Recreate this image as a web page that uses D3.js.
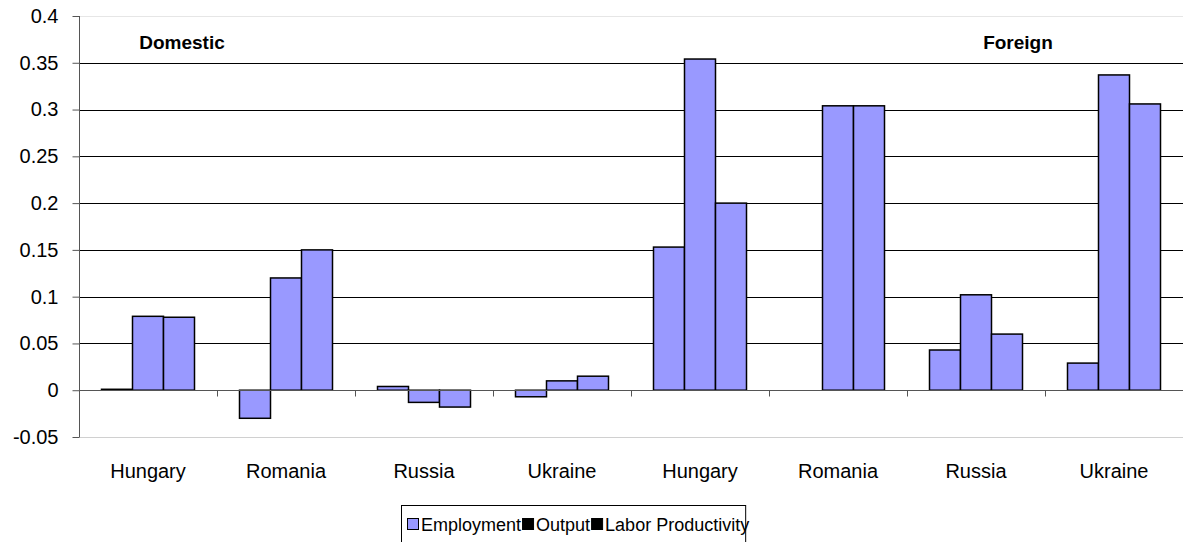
<!DOCTYPE html>
<html>
<head>
<meta charset="utf-8">
<script src="https://cdnjs.cloudflare.com/ajax/libs/d3/7.8.5/d3.min.js"></script>
<style>
  body { margin: 0; background: #fff; }
  svg { font-family: "Liberation Sans", Arial, sans-serif; }
</style>
</head>
<body>
<svg id="chart" width="1183" height="542"></svg>
<script>
	var categories = ["Hungary", "Romania", "Russia", "Ukraine", "Hungary", "Romania", "Russia", "Ukraine"];
	var series = ["Employment", "Output", "Labor Productivity"];
	var employment = [0.001, -0.03, 0.004, -0.007, 0.153, 0, 0.043, 0.029];
	var output = [0.079, 0.12, -0.013, 0.01, 0.354, 0.304, 0.102, 0.337];
	var laborProductivity = [0.078, 0.15, -0.018, 0.015, 0.2, 0.304, 0.06, 0.306];
	var yTicks = [-0.05, 0, 0.05, 0.1, 0.15, 0.2, 0.25, 0.3, 0.35, 0.4];
	var sectionLabels = ["Domestic", "Foreign"];

	var values = [employment, output, laborProductivity];
	var legendColors = ["#9999ff", "#000", "#000"];

	var svg = d3.select("#chart");
	var plotLeft = 79, plotRight = 1183, plotTop = 16, plotBottom = 437;

	var x = d3.scaleBand().domain(d3.range(categories.length)).range([plotLeft, plotRight]);
	var xs = d3.scaleBand().domain(d3.range(series.length))
		.range([22.5, x.bandwidth() - 22.5]);
	var y = d3.scaleLinear().domain([-0.05, 0.4]).range([plotBottom, plotTop]);

	/* plot area frame, light grey */
	svg.append("line").attr("x1", plotLeft).attr("x2", plotRight).attr("y1", plotTop + 0.5).attr("y2", plotTop + 0.5)
		.attr("stroke", "#e6e6e6");
	svg.append("line").attr("x1", plotLeft).attr("x2", plotRight).attr("y1", plotBottom + 0.5).attr("y2", plotBottom + 0.5)
		.attr("stroke", "#d0d0d0");

	/* gridlines */
	svg.append("g").selectAll("line")
		.data(yTicks.filter(function (d) { return d > -0.05 && d < 0.4 && d != 0; }))
		.enter().append("line")
		.attr("x1", plotLeft).attr("x2", plotRight)
		.attr("y1", function (d) { return Math.round(y(d)) + 0.5; })
		.attr("y2", function (d) { return Math.round(y(d)) + 0.5; })
		.attr("stroke", "#000").attr("stroke-width", 1);

	/* y axis */
	var yAxis = d3.axisLeft(y).tickValues(yTicks).tickSize(7).tickPadding(14)
		.tickFormat(function (d) { return String(+d.toFixed(2)); });
	var ga = svg.append("g").attr("transform", "translate(" + (plotLeft + 0.5) + ",0)").call(yAxis);
	ga.select(".domain").attr("stroke", "#555").attr("d", "M0," + plotTop + "V" + plotBottom);
	ga.selectAll(".tick line").attr("stroke", "#555");
	ga.selectAll(".tick text").attr("font-size", 20).attr("fill", "#000")
		.attr("font-family", "Liberation Sans, Arial, sans-serif");

	/* bars */
	var rows = [];
	categories.forEach(function (c, i) {
		series.forEach(function (s, j) {
			rows.push({ cat: i, ser: j, value: values[j][i] });
		});
	});

	svg.append("g").selectAll("rect")
		.data(rows.filter(function (d) { return d.value != 0; }))
		.enter().append("rect")
		.attr("x", function (d) { return x(d.cat) + xs(d.ser); })
		.attr("width", xs.bandwidth())
		.attr("y", function (d) { return y(Math.max(0, d.value)); })
		.attr("height", function (d) { return Math.abs(y(d.value) - y(0)); })
		.attr("fill", "#9999ff").attr("stroke", "#000").attr("stroke-width", 1.5);

	/* zero line and category axis */
	var y0 = Math.round(y(0)) + 0.5;
	svg.append("line").attr("x1", plotLeft).attr("x2", plotRight).attr("y1", y0).attr("y2", y0)
		.attr("stroke", "#555");
	svg.append("g").selectAll("line")
		.data(d3.range(1, categories.length))
		.enter().append("line")
		.attr("x1", function (d) { return Math.round(x(d)) + 0.5; })
		.attr("x2", function (d) { return Math.round(x(d)) + 0.5; })
		.attr("y1", y0).attr("y2", y0 + 6)
		.attr("stroke", "#555");

	svg.append("g").selectAll("text")
		.data(categories)
		.enter().append("text")
		.attr("x", function (d, i) { return x(i) + x.bandwidth() / 2; })
		.attr("y", 478)
		.attr("text-anchor", "middle").attr("font-size", 20)
		.text(function (d) { return d; });

	/* section labels */
	svg.append("text").attr("x", 182).attr("y", 49).attr("text-anchor", "middle")
		.attr("font-size", 19).attr("font-weight", "bold").text(sectionLabels[0]);
	svg.append("text").attr("x", 1018).attr("y", 49).attr("text-anchor", "middle")
		.attr("font-size", 19).attr("font-weight", "bold").text(sectionLabels[1]);

	/* legend: text runs slightly past the box, as in the original */
	var legend = svg.append("g").attr("transform", "translate(401,505)");
	var legendBox = legend.append("rect").attr("x", 0.5).attr("y", 0.5).attr("height", 45)
		.attr("fill", "#fff").attr("stroke", "#000");
	var lx = 6;
	series.forEach(function (s, i) {
		legend.append("rect").attr("x", lx + 0.5).attr("y", 13.5).attr("width", 11).attr("height", 11)
			.attr("fill", legendColors[i]).attr("stroke", "#000");
		var t = legend.append("text").attr("x", lx + 14).attr("y", 26)
			.attr("font-size", 18).text(s);
		lx += 14 + t.node().getComputedTextLength() + 1;
	});
	legendBox.attr("width", lx - 5);
</script>
</body>
</html>
